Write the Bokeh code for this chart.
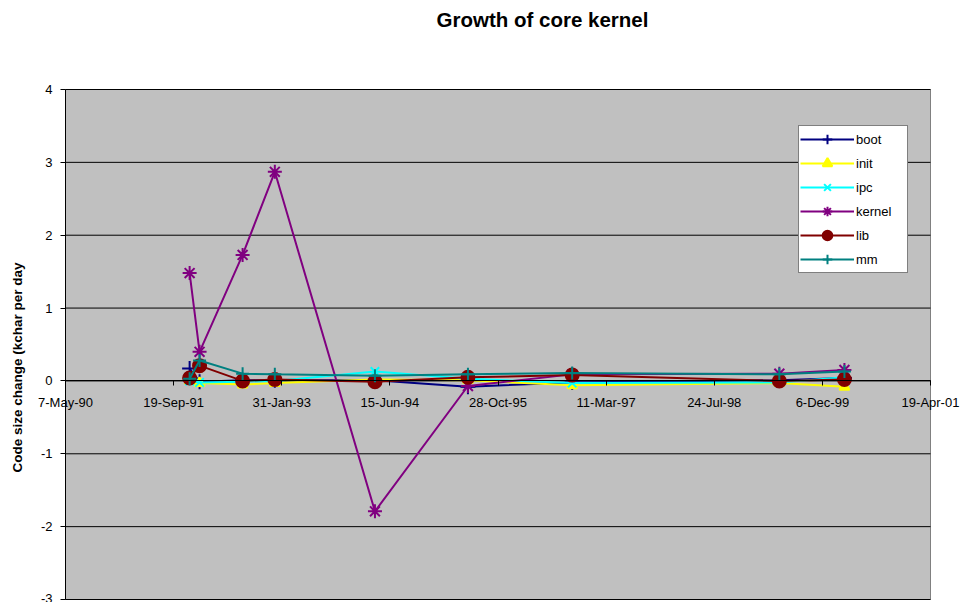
import math
import pandas as pd
from bokeh.plotting import figure
from bokeh.models import FixedTicker, Legend, LegendItem, Range1d, Label
from bokeh.embed import file_html
from bokeh.resources import INLINE

# Release dates at which the growth rate is sampled
dates = ["1991-12-02", "1992-01-17", "1992-08-03", "1992-12-30", "1994-04-07",
         "1995-06-11", "1996-10-05", "1999-05-21", "2000-03-17"]

# Code size change (kchar per day) per subsystem
boot = [0.17, -0.01, 0.01, 0.01, 0.01, -0.08, -0.02, 0.01, 0.04]
init = [0.00, -0.03, -0.05, -0.03, 0.02, 0.01, -0.06, -0.03, -0.08]
ipc = [0.00, -0.02, -0.01, 0.00, 0.13, 0.03, -0.03, -0.02, 0.05]
kernel = [1.48, 0.40, 1.73, 2.87, -1.79, -0.07, 0.09, 0.10, 0.15]
lib = [0.04, 0.21, 0.00, 0.02, -0.01, 0.05, 0.08, 0.00, 0.02]
mm = [0.03, 0.28, 0.10, 0.09, 0.07, 0.09, 0.11, 0.09, 0.13]

x_tick_labels = ["7-May-90", "19-Sep-91", "31-Jan-93", "15-Jun-94", "28-Oct-95",
                 "11-Mar-97", "24-Jul-98", "6-Dec-99", "19-Apr-01"]
y_ticks = [-3, -2, -1, 0, 1, 2, 3, 4]

FONT = "Liberation Sans"
W, H = 963, 602
# plot area inside the canvas (pixels)
PL, PR, PT, PB = 65, 930, 89, 599

x = pd.to_datetime(dates)
tick_dt = pd.to_datetime(x_tick_labels, format="%d-%b-%y")
tick_ms = [t.timestamp() * 1000.0 for t in tick_dt]
x0, x1 = tick_ms[0], tick_ms[-1]
y0, y1 = y_ticks[0], y_ticks[-1]

# the frame covers the whole canvas so that axis labels are never clipped;
# the ranges are padded so the plot area lands on PL..PR / PT..PB
kx = (PR - PL) / (x1 - x0)
ky = (PB - PT) / (y1 - y0)
x_range = Range1d(x0 - PL / kx, x1 + (W - PR) / kx)
y_range = Range1d(y0 - (H - PB) / ky, y1 + PT / ky)


def px_x(px):
    return x0 + (px - PL) / kx


def px_y(py):
    return y1 + (PT - py) / ky


p = figure(width=W, height=H, x_axis_type="datetime",
           x_range=x_range, y_range=y_range,
           output_backend="svg", toolbar_location=None,
           min_border_left=0, min_border_right=0,
           min_border_top=0, min_border_bottom=0)

p.background_fill_color = "white"
p.border_fill_color = "white"
p.outline_line_color = None
p.xgrid.visible = False
p.ygrid.visible = False

# grey plot area and its horizontal gridlines
p.quad(left=[x0], right=[x1], bottom=[y0], top=[y1],
       fill_color="#C0C0C0", line_color="#808080", line_width=1)
p.segment(x0=[x0] * len(y_ticks), x1=[x1] * len(y_ticks), y0=y_ticks, y1=y_ticks,
          line_color="black", line_width=1)

# title
p.add_layout(Label(x=px_x(542), y=px_y(19),
                   text="Growth of core kernel", text_align="center",
                   text_baseline="middle", text_font=FONT, text_font_size="20.5px",
                   text_font_style="bold", text_color="black"))

# y axis title, rotated
p.add_layout(Label(x=px_x(17), y=px_y(367), angle=math.pi / 2,
                   text="Code size change (kchar per day", text_align="center",
                   text_baseline="middle", text_font=FONT, text_font_size="13.5px",
                   text_font_style="bold", text_color="black"))

# x axis crossing at y = 0
p.xaxis.ticker = FixedTicker(ticks=tick_ms)
p.xaxis.major_label_overrides = {ms: lab for ms, lab in zip(tick_ms, x_tick_labels)}
p.xaxis.fixed_location = 0
p.xaxis.bounds = (x0, x1)
p.xaxis.major_tick_in = 0
p.xaxis.major_tick_out = 5
p.xaxis.minor_tick_line_color = None
p.xaxis.major_label_standoff = 9
p.xaxis.major_label_text_font = FONT
p.xaxis.major_label_text_font_size = "13px"
p.xaxis.major_label_text_color = "black"
p.xaxis.axis_line_color = "black"
p.xaxis.major_tick_line_color = "black"

# y axis along the left edge of the plot area
p.yaxis.ticker = FixedTicker(ticks=y_ticks)
p.yaxis.major_label_overrides = {t: str(t) for t in y_ticks}
p.yaxis.fixed_location = x0
p.yaxis.bounds = (y0, y1)
p.yaxis.major_tick_in = 0
p.yaxis.major_tick_out = 5
p.yaxis.minor_tick_line_color = None
p.yaxis.major_label_standoff = 8
p.yaxis.major_label_text_font = FONT
p.yaxis.major_label_text_font_size = "13px"
p.yaxis.major_label_text_color = "black"
p.yaxis.axis_line_color = "black"
p.yaxis.major_tick_line_color = "black"

series = [
    ("boot", boot, "#000080", "cross", 15, "#000080", None),
    ("init", init, "#FFFF00", "triangle", 10, "#FFFF00", "#FFFF00"),
    ("ipc", ipc, "#00FFFF", "x", 12, "#00FFFF", None),
    ("kernel", kernel, "#800080", "asterisk", 14, "#800080", None),
    ("lib", lib, "#800000", "circle", 13, "#800000", "#800000"),
    ("mm", mm, "#008080", "cross", 13, "#008080", None),
]

items = []
for name, vals, color, marker, size, lc, fc in series:
    r1 = p.line(x, vals, line_color=color, line_width=2)
    r2 = p.scatter(x, vals, marker=marker, size=size, line_color=lc,
                   fill_color=fc, line_width=2)
    items.append(LegendItem(label=name, renderers=[r1, r2]))

legend = Legend(items=items, location=(798, H - 273))
legend.background_fill_color = "white"
legend.background_fill_alpha = 1.0
legend.border_line_color = "black"
legend.border_line_width = 1
legend.label_text_font = FONT
legend.label_text_font_size = "13px"
legend.label_text_color = "black"
legend.glyph_width = 54
legend.glyph_height = 24
legend.label_height = 24
legend.label_width = 50
legend.label_standoff = 2
legend.spacing = 0
legend.padding = 1
legend.margin = 0
p.add_layout(legend)

open("out.html", "w").write(file_html(p, INLINE))
